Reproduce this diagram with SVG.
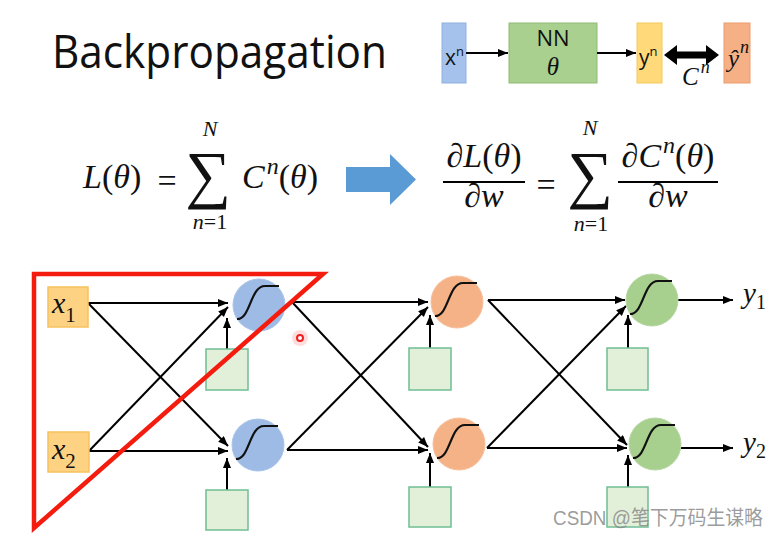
<svg xmlns="http://www.w3.org/2000/svg" width="780" height="536" viewBox="0 0 780 536">
<defs>
<style>
.ln{stroke:#000;stroke-width:2;fill:none}
.ar{stroke:#000;stroke-width:2;fill:none;marker-end:url(#ah)}
.m{font-family:"Liberation Serif","DejaVu Serif",serif;fill:#111}
.i{font-style:italic}
.sans{font-family:"Open Sans","Liberation Sans",sans-serif;fill:#111}
.bias{fill:#e2efd9;stroke:#6fbf94;stroke-width:1.5}
.inp{fill:#fdd383;stroke:#f6c25e;stroke-width:1.5}
.blue{fill:#9dbbe4;stroke:#a9c4ea;stroke-width:1}
.orange{fill:#f5b287;stroke:#f7c09c;stroke-width:1}
.green{fill:#a7cf8d;stroke:#b7d8a2;stroke-width:1}
.sig{fill:none;stroke:#111;stroke-width:2.2}
</style>
<marker id="ah" markerUnits="userSpaceOnUse" markerWidth="11" markerHeight="9" refX="10" refY="4" orient="auto">
<path d="M0,0 L10,4 L0,8 z" fill="#000"/>
</marker>
<path id="sg" d="M-22,14 C-8,14 -9,-19 6,-19 L20,-19"/>
</defs>
<rect width="780" height="536" fill="#fff"/>

<g id="title">
<text class="sans" x="52" y="68" font-size="46" textLength="335" lengthAdjust="spacingAndGlyphs">Backpropagation</text>
</g>

<g id="mini">
<g id="xn"><rect x="442" y="23" width="24" height="60" fill="#a4c2ec" stroke="#8fb0dd"/>
<text class="sans" x="445" y="65" font-size="21">x<tspan font-size="13" dy="-9">n</tspan></text></g>
<g id="nn"><rect x="509" y="23" width="88" height="60" fill="#a9d08e" stroke="#8fba74"/>
<text class="sans" x="553" y="46" font-size="22" text-anchor="middle">NN</text>
<text class="m i" x="553" y="75" font-size="25" text-anchor="middle">θ</text></g>
<g id="yn"><rect x="637" y="23" width="25" height="60" fill="#ffd97a" stroke="#f2c95a"/>
<text class="sans" x="639" y="65" font-size="21">y<tspan font-size="13" dy="-9">n</tspan></text></g>
<g id="yhat"><rect x="724" y="23" width="26" height="60" fill="#f5b185" stroke="#eb9c6c"/>
<text class="m i" x="728" y="67" font-size="25">ŷ<tspan font-size="18" dx="1" dy="-14">n</tspan></text></g>
<g id="miniconn">
<line class="ar" x1="466" y1="53" x2="508" y2="53"/>
<line class="ar" x1="597" y1="53" x2="636" y2="53"/>
<polygon points="664,55 677,45 677,51.5 706,51.5 706,45 719,55 706,65 706,58.5 677,58.5 677,65" fill="#000"/>
<text class="m i" x="682" y="85" font-size="25">C<tspan font-size="18" dx="2" dy="-12">n</tspan></text>
</g>
</g>

<g id="formula-left">
<text class="m" x="83" y="188" font-size="34"><tspan class="i">L</tspan>(<tspan class="i">θ</tspan>)</text>
<text class="m" x="167" y="192" font-size="34" text-anchor="middle">=</text>
<text class="m" x="208" y="196" font-size="64" text-anchor="middle">∑</text>
<text class="m i" x="210" y="136" font-size="22" text-anchor="middle">N</text>
<text class="m" x="210" y="229" font-size="22" text-anchor="middle"><tspan class="i">n</tspan>=1</text>
<text class="m" x="242" y="188" font-size="34"><tspan class="i">C</tspan><tspan class="i" font-size="24" dx="2" dy="-14">n</tspan><tspan dy="14">(</tspan><tspan class="i">θ</tspan>)</text>
</g>

<g id="bigarrow">
<polygon points="346,167 390,167 390,154 416,179.5 390,205 390,192 346,192" fill="#5b9bd5"/>
</g>

<g id="formula-right">
<text class="m" x="484" y="167" font-size="34" text-anchor="middle"><tspan class="i">∂L</tspan>(<tspan class="i">θ</tspan>)</text>
<line class="ln" x1="443" y1="182" x2="525" y2="182"/>
<text class="m i" x="484" y="207" font-size="34" text-anchor="middle">∂w</text>
<text class="m" x="546" y="196" font-size="34" text-anchor="middle">=</text>
<text class="m" x="590" y="196" font-size="64" text-anchor="middle">∑</text>
<text class="m i" x="590" y="135" font-size="22" text-anchor="middle">N</text>
<text class="m" x="591" y="231" font-size="22" text-anchor="middle"><tspan class="i">n</tspan>=1</text>
<text class="m" x="668" y="167" font-size="34" text-anchor="middle"><tspan class="i">∂C</tspan><tspan class="i" font-size="24" dx="2" dy="-14">n</tspan><tspan dy="14">(</tspan><tspan class="i">θ</tspan>)</text>
<line class="ln" x1="618" y1="182" x2="718" y2="182"/>
<text class="m i" x="668" y="207" font-size="34" text-anchor="middle">∂w</text>
</g>

<g id="connectors">
<line class="ar" x1="88" y1="303" x2="228" y2="303"/>
<line class="ar" x1="88" y1="303" x2="228" y2="446"/>
<line class="ar" x1="89" y1="451" x2="228" y2="307"/>
<line class="ar" x1="89" y1="451" x2="228" y2="451"/>
<line class="ar" x1="227" y1="349" x2="227" y2="318"/>
<line class="ar" x1="227" y1="490" x2="227" y2="458"/>
<line class="ar" x1="292" y1="302" x2="428" y2="302"/>
<line class="ar" x1="292" y1="302" x2="428" y2="447"/>
<line class="ar" x1="287" y1="450" x2="428" y2="307"/>
<line class="ar" x1="287" y1="450" x2="428" y2="450"/>
<line class="ar" x1="430" y1="348" x2="430" y2="315"/>
<line class="ar" x1="430" y1="487" x2="430" y2="453"/>
<line class="ar" x1="488" y1="300" x2="625" y2="300"/>
<line class="ar" x1="488" y1="300" x2="627" y2="445"/>
<line class="ar" x1="487" y1="448" x2="626" y2="306"/>
<line class="ar" x1="487" y1="448" x2="627" y2="448"/>
<line class="ar" x1="628" y1="348" x2="628" y2="315"/>
<line class="ar" x1="628" y1="487" x2="628" y2="455"/>
<line class="ar" x1="677" y1="300" x2="733" y2="300"/>
<line class="ar" x1="681" y1="448" x2="733" y2="448"/>
</g>

<g id="x1"><rect class="inp" x="48" y="287" width="40" height="40"/>
<text class="m i" x="52" y="313" font-size="30">x<tspan font-style="normal" font-size="21" dy="9">1</tspan></text></g>
<g id="x2"><rect class="inp" x="48" y="432" width="41" height="40"/>
<text class="m i" x="52" y="459" font-size="30">x<tspan font-style="normal" font-size="21" dy="9">2</tspan></text></g>

<g id="h11"><circle class="blue" cx="259" cy="305" r="26"/><use href="#sg" class="sig" x="259" y="305"/></g>
<g id="h12"><circle class="blue" cx="258" cy="445" r="26"/><use href="#sg" class="sig" x="258" y="445"/></g>
<g id="b11"><rect class="bias" x="206" y="349" width="42" height="41"/></g>
<g id="b12"><rect class="bias" x="206" y="490" width="42" height="40"/></g>

<g id="h21"><circle class="orange" cx="457" cy="302" r="26"/><use href="#sg" class="sig" x="457" y="302"/></g>
<g id="h22"><circle class="orange" cx="459" cy="444" r="26"/><use href="#sg" class="sig" x="459" y="444"/></g>
<g id="b21"><rect class="bias" x="409" y="348" width="42" height="42"/></g>
<g id="b22"><rect class="bias" x="409" y="487" width="42" height="40"/></g>

<g id="h31"><circle class="green" cx="652" cy="300" r="26"/><use href="#sg" class="sig" x="652" y="300"/></g>
<g id="h32"><circle class="green" cx="655" cy="444" r="26"/><use href="#sg" class="sig" x="655" y="444"/></g>
<g id="b31"><rect class="bias" x="607" y="348" width="41" height="42"/></g>
<g id="b32"><rect class="bias" x="607" y="487" width="41" height="40"/></g>

<g id="y1"><text class="m i" x="743" y="303" font-size="29">y<tspan font-style="normal" font-size="20" dy="6">1</tspan></text></g>
<g id="y2"><text class="m i" x="743" y="452" font-size="29">y<tspan font-style="normal" font-size="20" dy="6">2</tspan></text></g>

<g id="highlight">
<polygon points="34,274 323,274 34,528" fill="none" stroke="#f41c0e" stroke-width="4.5" stroke-linejoin="miter"/>
<circle cx="300" cy="338" r="8" fill="#ff4040" opacity="0.18"/>
<circle cx="300" cy="338" r="3" fill="#fff" stroke="#f02020" stroke-width="2"/>
</g>

<g id="watermark">
<text x="553" y="525" font-size="20" fill="#8a8a8a" fill-opacity="0.85" font-family="'Liberation Sans','Noto Sans CJK SC',sans-serif" textLength="210" lengthAdjust="spacingAndGlyphs">CSDN @笔下万码生谋略</text>
</g>
</svg>
